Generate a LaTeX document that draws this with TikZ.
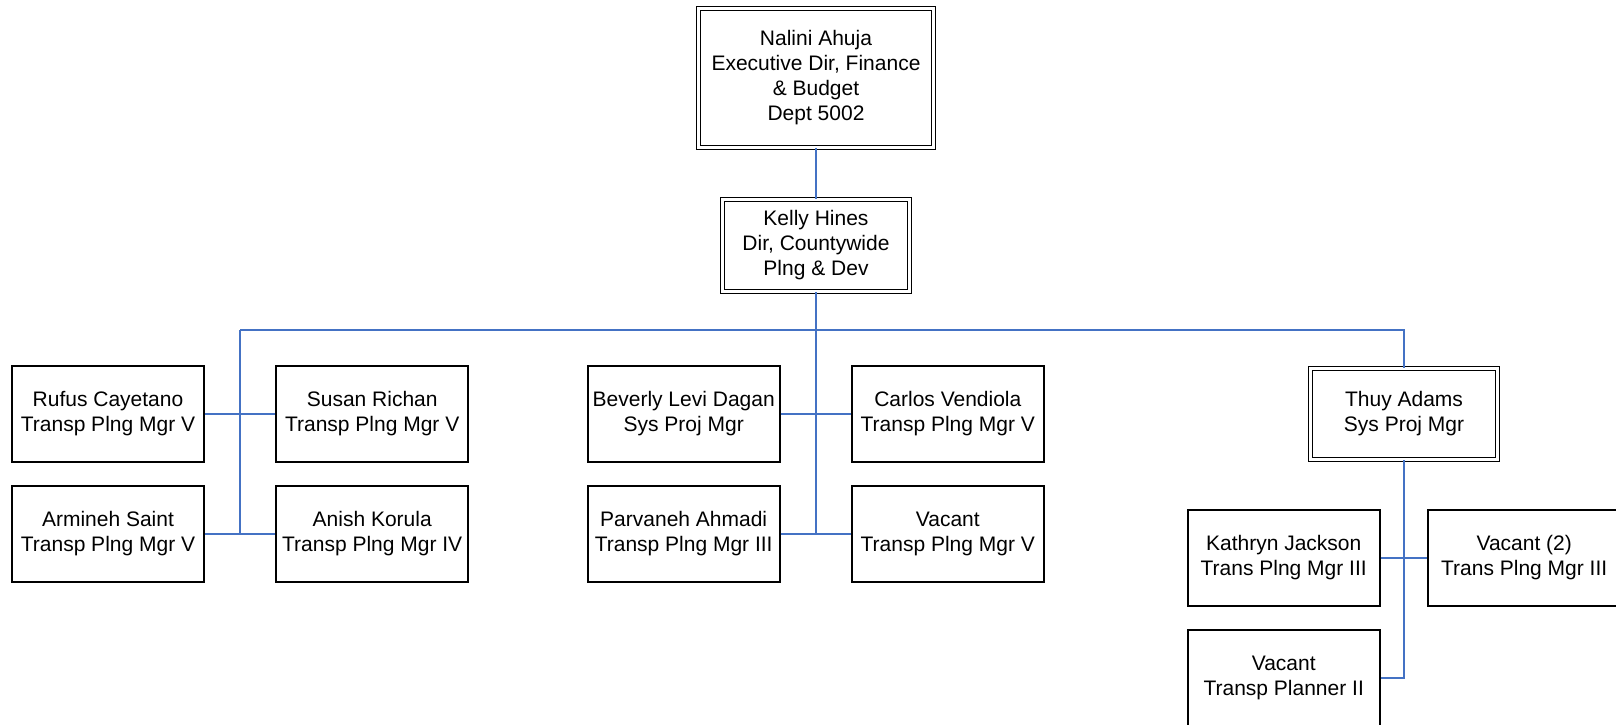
\documentclass[tikz,border=0pt]{standalone}
\usepackage{fontspec}
\setmainfont{Liberation Sans}
\usepackage{tikz}
\usetikzlibrary{calc}
\definecolor{linkblue}{RGB}{68, 114, 196}

\tikzset{
  staffbox/.style={draw=black, line width=1.6pt, fill=white, minimum width=192pt, minimum height=96pt,
    inner sep=2pt, align=center, font=\fontsize{21}{25}\selectfont},
  headbox/.style={staffbox, line width=1.2pt, double, double distance=2.6pt},
  link/.style={draw=linkblue, line width=1.8pt}
}

\begin{document}
\begin{tikzpicture}[x=1pt, y=-1pt]
  \useasboundingbox (0,0) rectangle (1616,725);

  % heads
  \node[headbox, minimum width=235pt, minimum height=139pt] (nalini) at (816,77.8)
    {Nalini Ahuja\\Executive Dir, Finance\\\& Budget\\Dept 5002};
  \node[headbox, minimum width=187pt, minimum height=91.8pt] (kelly) at (816,245.5)
    {Kelly Hines\\Dir, Countywide\\Plng \& Dev};
  \node[headbox, minimum width=187pt, minimum height=91pt] (thuy) at (1404,413.9)
    {Thuy Adams\\Sys Proj Mgr};

  % left group
  \node[staffbox] (rufus) at (108,413.7) {Rufus Cayetano\\Transp Plng Mgr V};
  \node[staffbox] (susan) at (372.2,413.7) {Susan Richan\\Transp Plng Mgr V};
  \node[staffbox] (armineh) at (108,533.7) {Armineh Saint\\Transp Plng Mgr V};
  \node[staffbox] (anish) at (372.2,533.7) {Anish Korula\\Transp Plng Mgr IV};

  % middle group
  \node[staffbox] (beverly) at (683.7,413.7) {Beverly Levi Dagan\\Sys Proj Mgr};
  \node[staffbox] (carlos) at (947.8,413.7) {Carlos Vendiola\\Transp Plng Mgr V};
  \node[staffbox] (parvaneh) at (683.7,533.7) {Parvaneh Ahmadi\\Transp Plng Mgr III};
  \node[staffbox] (vacantmid) at (947.8,533.7) {Vacant\\Transp Plng Mgr V};

  % right group
  \node[staffbox] (kathryn) at (1283.7,558) {Kathryn Jackson\\Trans Plng Mgr III};
  \node[staffbox] (vacanttwo) at (1524.2,558) {Vacant (2)\\Trans Plng Mgr III};
  \node[staffbox] (vacantlow) at (1283.7,678.2) {Vacant\\Transp Planner II};

  % connectors
  \coordinate (busL) at (240,330);
  \coordinate (busR) at (1404,330);
  \draw[link] (nalini) -- (kelly);
  \draw[link] (kelly.south) -- (kelly.south |- parvaneh.east);
  \draw[link] (busL) -- (busR) -- (thuy.north);
  \draw[link] (busL) -- (busL |- armineh.east);
  \draw[link] (rufus.east) -- (susan.west);
  \draw[link] (armineh.east) -- (anish.west);
  \draw[link] (beverly.east) -- (carlos.west);
  \draw[link] (parvaneh.east) -- (vacantmid.west);
  \draw[link] (thuy.south) -- (thuy.south |- vacantlow.east) -- (vacantlow.east);
  \draw[link] (kathryn.east) -- (vacanttwo.west);
\end{tikzpicture}
\end{document}
